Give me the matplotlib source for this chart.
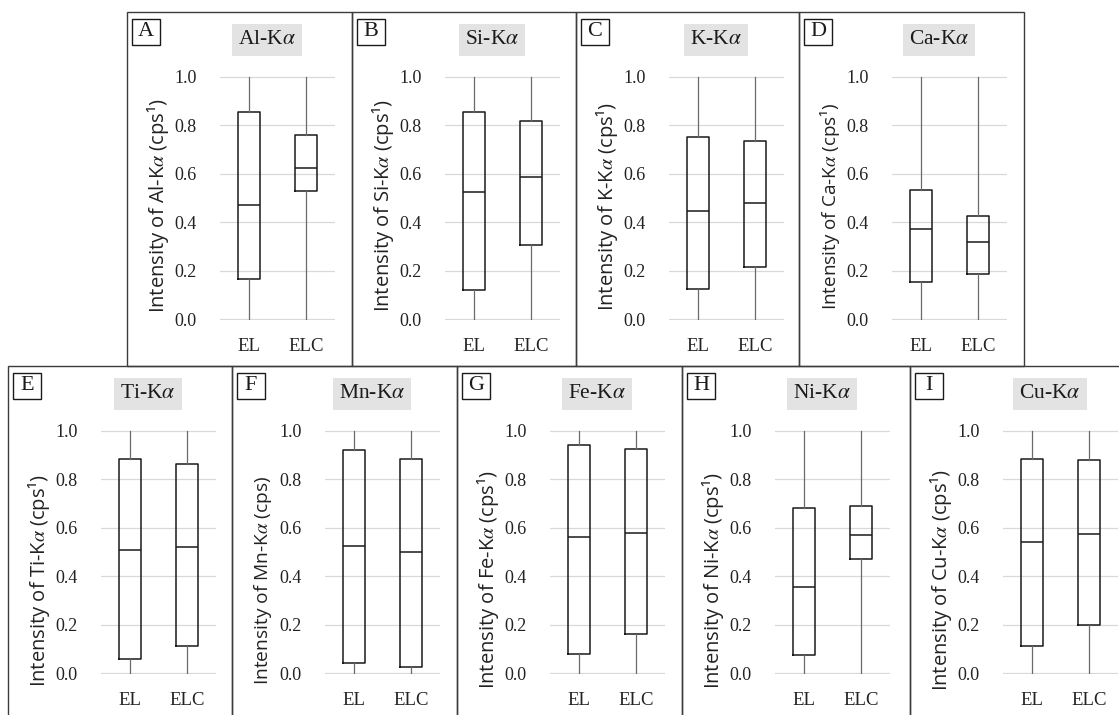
import matplotlib
matplotlib.use('Agg')
import matplotlib.pyplot as plt
from matplotlib.patches import Rectangle

plt.rcParams['mathtext.fontset'] = 'stix'

# ---------------- data ----------------
panel_letters = ['A', 'B', 'C', 'D', 'E', 'F', 'G', 'H', 'I']
elements = ['Al', 'Si', 'K', 'Ca', 'Ti', 'Mn', 'Fe', 'Ni', 'Cu']
units = ['cps¹', 'cps¹', 'cps¹', 'cps¹', 'cps¹', 'cps', 'cps¹', 'cps¹', 'cps¹']
groups = ['EL', 'ELC']
yticks = [0.0, 0.2, 0.4, 0.6, 0.8, 1.0]

el_whislo = [0.0, 0.0, 0.0, 0.0, 0.0, 0.0, 0.0, 0.0, 0.0]
el_q1 = [0.165, 0.12, 0.125, 0.155, 0.06, 0.04, 0.08, 0.075, 0.11]
el_med = [0.47, 0.525, 0.445, 0.37, 0.51, 0.525, 0.56, 0.355, 0.54]
el_q3 = [0.855, 0.855, 0.75, 0.535, 0.885, 0.92, 0.94, 0.68, 0.885]
el_whishi = [1.0, 1.0, 1.0, 1.0, 1.0, 1.0, 1.0, 1.0, 1.0]

elc_whislo = [0.0, 0.0, 0.0, 0.0, 0.0, 0.0, 0.0, 0.0, 0.0]
elc_q1 = [0.53, 0.305, 0.215, 0.185, 0.11, 0.025, 0.16, 0.47, 0.2]
elc_med = [0.625, 0.585, 0.48, 0.32, 0.52, 0.50, 0.58, 0.57, 0.575]
elc_q3 = [0.76, 0.82, 0.735, 0.425, 0.865, 0.885, 0.925, 0.69, 0.88]
elc_whishi = [1.0, 1.0, 1.0, 1.0, 1.0, 1.0, 1.0, 1.0, 1.0]

# ---------------- layout (pixels) ----------------
W, H = 1119, 715
panels_px = [(127, 12, 225, 354), (352, 12, 224, 354), (576, 12, 223, 354), (799, 12, 225, 354),
             (8, 366, 224, 400), (232, 366, 225, 400), (457, 366, 225, 400),
             (682, 366, 228, 400), (910, 366, 260, 400)]
label_sizes = [14.5, 14.5, 14.5, 13.6, 14.5, 13.8, 14.5, 14.5, 14.5]

SERIF = 'Liberation Serif'
SANS = 'Open Sans'

fig = plt.figure(figsize=(W / 100, H / 100), dpi=100)


def fx(x):
    return x / W


def fy(y):
    return 1 - y / H


for i in range(9):
    L, T, w, h = panels_px[i]
    top_row = i < 4
    # panel border
    fig.add_artist(Rectangle((fx(L), fy(T + h)), w / W, h / H, transform=fig.transFigure,
                             fill=False, ec='#3c3c3c', lw=1.0, zorder=5))
    # axes
    ax = fig.add_axes([fx(L + 93), fy(T + 308), 115 / W, 244 / H])
    stats = [
        dict(whislo=el_whislo[i], q1=el_q1[i], med=el_med[i], q3=el_q3[i], whishi=el_whishi[i],
             fliers=[], label=groups[0]),
        dict(whislo=elc_whislo[i], q1=elc_q1[i], med=elc_med[i], q3=elc_q3[i], whishi=elc_whishi[i],
             fliers=[], label=groups[1]),
    ]
    ax.bxp(stats, positions=[1, 2], widths=0.39, showfliers=False, showcaps=False,
           boxprops=dict(color='#1a1a1a', lw=1.1),
           medianprops=dict(color='#1a1a1a', lw=1.1),
           whiskerprops=dict(color='#6a6a6a', lw=0.9))
    ax.set_xlim(0.49, 2.51)
    ax.set_ylim(-0.004, 1.004)
    ax.set_yticks(yticks)
    ax.set_yticklabels([f'{v:.1f}' for v in yticks], fontfamily=SERIF, fontsize=13, color='#222222')
    ax.set_xticks([1, 2])
    ax.set_xticklabels(groups, fontfamily=SERIF, fontsize=13.5, color='#222222')
    ax.tick_params(axis='both', length=0)
    ax.tick_params(axis='y', pad=17)
    ax.tick_params(axis='x', pad=13)
    for s in ax.spines.values():
        s.set_visible(False)
    ax.yaxis.grid(True, color='#d9d9d9', lw=0.9)
    ax.set_axisbelow(True)
    ax.patch.set_alpha(0)

    # y label
    ly = T + (194 if top_row else 214)
    fig.text(fx(L + 31), fy(ly), f'Intensity of {elements[i]}-K$\\alpha$ ({units[i]})',
             rotation=90, ha='center', va='center', fontfamily=SANS, fontsize=label_sizes[i],
             color='#222222')

    # panel letter box
    fig.add_artist(Rectangle((fx(L + 5), fy(T + 33)), 28 / W, 26 / H, transform=fig.transFigure,
                             fill=True, fc='white', ec='#1a1a1a', lw=1.0, zorder=6))
    fig.text(fx(L + 19), fy(T + 20), panel_letters[i], ha='center', va='center',
             fontfamily=SERIF, fontsize=16, color='#1a1a1a', zorder=7)

    # title
    fig.text(fx(L + 140), fy(T + 28), f'{elements[i]}-K$\\alpha$', ha='center', va='center',
             fontfamily=SERIF, fontsize=15.5, color='#1a1a1a',
             bbox=dict(boxstyle='square,pad=0.28', fc='#e3e3e3', ec='none'))

fig.savefig('out.png', dpi=100)
